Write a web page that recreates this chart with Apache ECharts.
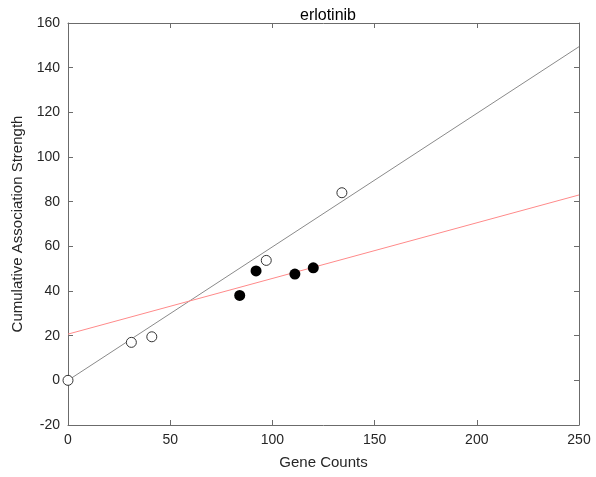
<!DOCTYPE html>
<html><head><meta charset="utf-8">
<script src="https://cdn.jsdelivr.net/npm/echarts@6/dist/echarts.min.js"></script>
<style>html,body{margin:0;padding:0;background:#fff}#c{width:596px;height:477px}</style>
</head><body><div id="c"></div>
<script>
var openPoints = [[0,0],[31,17],[41,19.5],[97,53.7],[134,84]];
var filledPoints = [[84,38],[92,49],[111,47.6],[120,50.4]];
var grayFit = [[0,0],[250,149.4]];
var redFit = [[0,20.7],[250,83]];
var xTicks = [0,50,100,150,200,250];
var yTicks = [-20,0,20,40,60,80,100,120,140,160];

var axCol = '#6b6b6b', txtCol = '#262626', font = 'Liberation Sans, Arial, sans-serif';
function baseAxis(extra){
  var a = {
    axisLine:{show:true,onZero:false,lineStyle:{color:axCol,width:1}},
    axisTick:{show:true,inside:true,length:5,lineStyle:{color:axCol}},
    splitLine:{show:false},
    axisLabel:{color:txtCol,fontSize:14,fontFamily:font,margin:8}
  };
  for (var k in extra) a[k]=extra[k];
  return a;
}
var chart = echarts.init(document.getElementById('c'));
chart.setOption({
  animation:false,
  title:{text:'erlotinib',left:323,top:3,textAlign:'center',textStyle:{color:'#000',fontSize:16,fontWeight:'normal',fontFamily:font}},
  grid:{left:68,right:17,top:23,bottom:52},
  xAxis:[
    baseAxis({type:'value',min:xTicks[0],max:xTicks[xTicks.length-1],interval:50,position:'bottom',
      name:'Gene Counts',nameLocation:'middle',nameGap:30,nameTextStyle:{color:txtCol,fontSize:15,fontFamily:font}}),
    baseAxis({type:'value',min:0,max:250,interval:50,position:'top',axisLabel:{show:false}})
  ],
  yAxis:[
    baseAxis({type:'value',min:yTicks[0],max:yTicks[yTicks.length-1],interval:20,position:'left',
      name:'Cumulative Association Strength',nameLocation:'middle',nameGap:40,nameTextStyle:{color:txtCol,fontSize:15,fontFamily:font}}),
    baseAxis({type:'value',min:-20,max:160,interval:20,position:'right',axisLabel:{show:false}})
  ],
  series:[
    {type:'line',data:grayFit,symbol:'none',lineStyle:{color:'#8a8a8a',width:1},z:2},
    {type:'line',data:redFit,symbol:'none',lineStyle:{color:'#ff8a8a',width:1},z:2},
    {type:'scatter',data:openPoints,symbol:'circle',symbolSize:10,itemStyle:{color:'#fff',borderColor:'#333',borderWidth:1,opacity:1},z:3},
    {type:'scatter',data:filledPoints,symbol:'circle',symbolSize:11,itemStyle:{color:'#000',borderColor:'#000',borderWidth:0,opacity:1},z:3}
  ]
});
</script></body></html>
